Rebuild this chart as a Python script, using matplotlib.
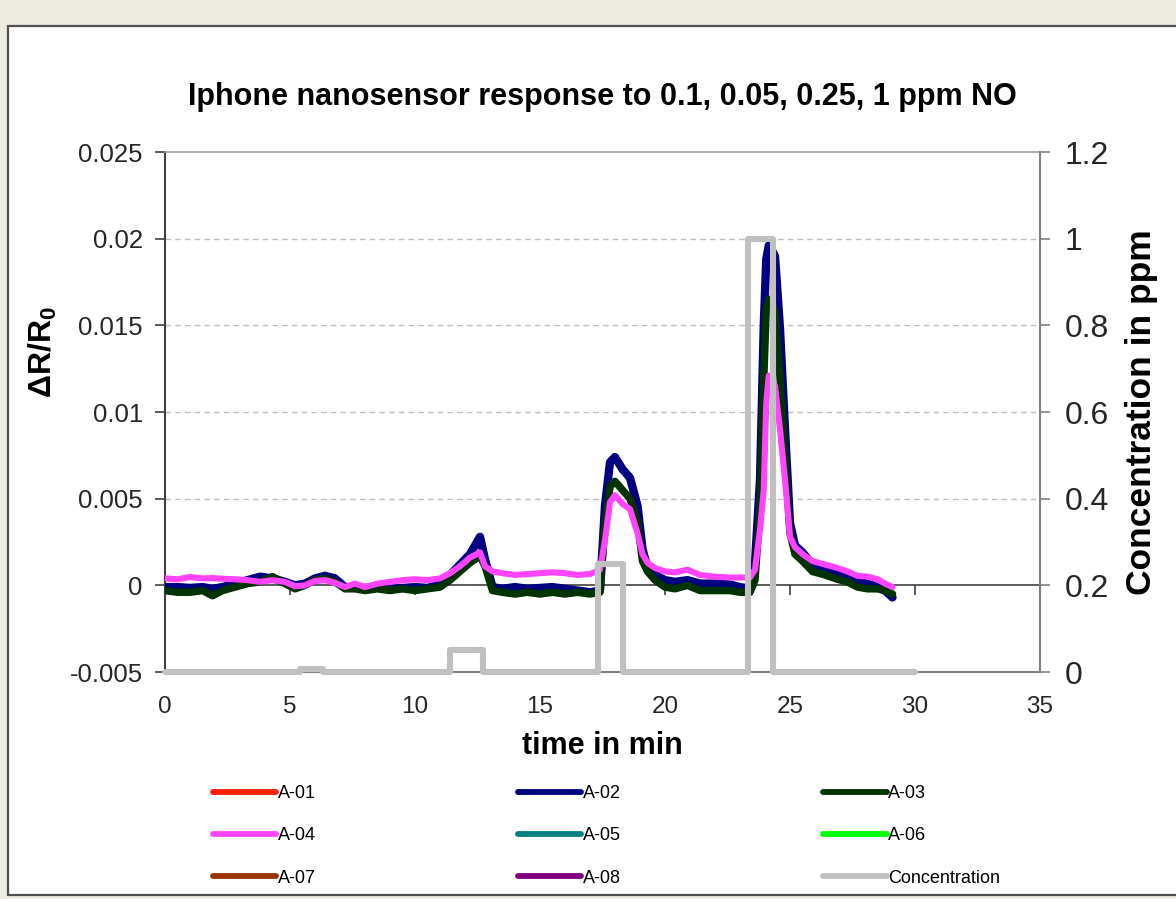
import matplotlib
matplotlib.use("Agg")
import matplotlib.pyplot as plt
from matplotlib.patches import Rectangle
from matplotlib.ticker import FixedLocator, FixedFormatter

plt.rcParams['axes.unicode_minus'] = False
plt.rcParams['font.family'] = ['Liberation Sans', 'DejaVu Sans']
plt.rcParams['mathtext.fontset'] = 'custom'
plt.rcParams['mathtext.rm'] = 'Liberation Sans'
plt.rcParams['mathtext.bf'] = 'Liberation Sans:bold'

# ---------------- data ----------------
time_min = [0, 0.5, 1, 1.5, 1.9, 2.3, 2.8, 3.3, 3.8, 4.3, 4.8, 5.2, 5.6, 6.0, 6.4, 6.8,
            7.2, 7.6, 8.0, 8.5, 9.0, 9.5, 10.0, 10.5, 11.0, 11.4, 11.8, 12.2, 12.6, 12.8,
            13.1, 13.5, 14.0, 14.5, 15.0, 15.5, 16.0, 16.5, 17.0, 17.4, 17.6, 17.8, 18.0,
            18.3, 18.6, 18.9, 19.1, 19.3, 19.6, 20.0, 20.4, 20.9, 21.4, 22.0, 22.6, 23.0,
            23.4, 23.6, 23.8, 23.95, 24.05, 24.15, 24.25, 24.4, 24.6, 24.8, 25.0, 25.2,
            25.5, 25.9, 26.4, 26.9, 27.3, 27.7, 28.1, 28.5, 28.8, 29.1]

a02 = [-0.0001, -0.0001, -0.00015, -0.0001, -0.0002, -0.0001, 0.0001, 0.0003, 0.0005, 0.0004,
       0.0002, 0.0, 0.0001, 0.0004, 0.00055, 0.0004, -0.0001, -0.0001, -0.00015, -0.0001,
       -0.0002, -0.00015, -0.0001, -0.00015, 0.00005, 0.0006, 0.0012, 0.0018, 0.0028, 0.0015,
       -0.0001, -0.0002, -0.0001, -0.0002, -0.00015, -0.0001, -0.0002, -0.0003, -0.0004, -0.0003,
       0.0046, 0.0071, 0.0074, 0.0067, 0.0062, 0.0046, 0.0021, 0.001, 0.0006, 0.0003,
       0.0002, 0.0003, 0.0001, 0.0001, 0.00005, -0.0001, -0.0002, 0.0013, 0.0061, 0.015,
       0.0188, 0.0196, 0.0194, 0.019, 0.0148, 0.009, 0.0036, 0.0023, 0.0019, 0.0012,
       0.001, 0.00075, 0.0005, 0.0002, 0.0001, -0.0001, -0.0003, -0.0007]

a03 = [-0.0003, -0.0004, -0.0004, -0.0003, -0.0006, -0.0003, -0.0001, 0.0001, 0.0002, 0.0005,
       0.0001, -0.0002, 0.0, 0.0003, 0.0004, 0.0002, -0.0002, -0.0002, -0.0003, -0.0002,
       -0.0003, -0.0002, -0.0003, -0.0002, -0.0001, 0.0003, 0.0008, 0.0013, 0.0017, 0.0011,
       -0.0003, -0.0004, -0.0005, -0.0004, -0.0005, -0.0004, -0.0005, -0.0004, -0.0005, -0.0004,
       0.0035, 0.0057, 0.006, 0.0055, 0.005, 0.0037, 0.0014, 0.0008, 0.0003, -0.0001,
       -0.0002, 0.0, -0.0003, -0.0003, -0.0003, -0.0004, -0.0004, 0.0003, 0.0045, 0.0119,
       0.016, 0.0165, 0.0163, 0.0158, 0.012, 0.0075, 0.003, 0.0018, 0.0014, 0.0008,
       0.0006, 0.00035, 0.0002, -0.0001, -0.0002, -0.0002, -0.0003, -0.0005]

a04 = [0.0004, 0.00035, 0.00048, 0.0004, 0.00042, 0.00038, 0.00035, 0.0003, 0.0002, 0.0003,
       0.0002, -0.00005, 0.0, 0.00025, 0.0003, 0.00015, -0.0001, 0.0001, -0.0001, 0.0001,
       0.0002, 0.0003, 0.00035, 0.0003, 0.0004, 0.0007, 0.0011, 0.0016, 0.0019, 0.0011,
       0.0008, 0.0007, 0.0006, 0.00065, 0.0007, 0.00075, 0.0007, 0.0006, 0.00065, 0.0009,
       0.0026, 0.0048, 0.0052, 0.0047, 0.0044, 0.003, 0.0018, 0.0013, 0.001, 0.0008,
       0.00075, 0.0009, 0.0006, 0.0005, 0.00045, 0.00045, 0.00045, 0.0009, 0.0032, 0.0055,
       0.0105, 0.0121, 0.012, 0.0115, 0.009, 0.0061, 0.0028, 0.0022, 0.0018, 0.0014,
       0.0012, 0.001, 0.0008, 0.00055, 0.0005, 0.00035, 0.0001, -0.0001]

a01, a05, a06, a07, a08 = [], [], [], [], []   # listed in legend, not visible in the plot

conc_time = [0, 5.4, 5.4, 6.3, 6.3, 11.4, 11.4, 12.7, 12.7, 17.3, 17.3, 18.3, 18.3,
             23.3, 23.3, 24.3, 24.3, 30]
conc_ppm = [0, 0, 0.008, 0.008, 0, 0, 0.05, 0.05, 0, 0, 0.25, 0.25, 0, 0, 1, 1, 0, 0]

left_ticks = [-0.005, 0, 0.005, 0.01, 0.015, 0.02, 0.025]
left_labels = ['-0.005', '0', '0.005', '0.01', '0.015', '0.02', '0.025']
right_ticks = [0, 0.2, 0.4, 0.6, 0.8, 1.0, 1.2]
right_labels = ['0', '0.2', '0.4', '0.6', '0.8', '1', '1.2']
x_ticks = [0, 5, 10, 15, 20, 25, 30, 35]

assert len(time_min) == len(a02) == len(a03) == len(a04)

# ---------------- figure ----------------
W, H = 1176, 899
fig = plt.figure(figsize=(W / 100, H / 100), dpi=100)
fig.patch.set_facecolor('#EEEBE0')
fig.patches.append(Rectangle((8 / W, 4 / H), 1.2, (895 - 26) / H, transform=fig.transFigure,
                             facecolor='white', edgecolor='#505050', linewidth=1.6, zorder=-5))

ax = fig.add_axes([165 / W, 1 - 672 / H, 875 / W, 520 / H])
ax.set_facecolor('none')
ax.set_xlim(0, 35)
ax.set_ylim(-0.005, 0.025)

series = [('A-01', a01, '#FF2000', 4.5), ('A-02', a02, '#000080', 6.0),
          ('A-03', a03, '#003300', 5.4), ('A-04', a04, '#FF44FF', 4.4),
          ('A-05', a05, '#008080', 4.5), ('A-06', a06, '#00FF00', 4.5),
          ('A-07', a07, '#993300', 4.5), ('A-08', a08, '#800080', 4.5)]
handles = {}
for name, vals, col, lw in series:
    t = time_min if vals else []
    h, = ax.plot(t, vals, color=col, lw=lw, solid_capstyle='round',
                 solid_joinstyle='round', zorder=3, label=name)
    handles[name] = h

# gridlines
for yv in [0.005, 0.01, 0.015, 0.02]:
    ax.axhline(yv, color='#BFBFBF', lw=1.0, ls=(0, (4, 3)), zorder=1)

# spines
ax.spines['bottom'].set_position(('data', 0))
ax.spines['bottom'].set_color('#404040')
ax.spines['bottom'].set_linewidth(1.2)
ax.spines['left'].set_color('#404040')
ax.spines['left'].set_linewidth(1.5)
ax.spines['top'].set_color('#A0A0A0')
ax.spines['top'].set_linewidth(1.2)
ax.spines['right'].set_visible(False)

ax.xaxis.set_major_locator(FixedLocator(x_ticks))
ax.tick_params(axis='x', direction='out', length=7, width=1.2, color='#404040',
               labelbottom=False)
ax.yaxis.set_major_locator(FixedLocator(left_ticks))
ax.yaxis.set_major_formatter(FixedFormatter(left_labels))
ax.tick_params(axis='y', direction='out', length=7, width=1.2, color='#404040',
               labelsize=18.5, labelcolor='#262626', pad=9)

# bottom label axis (plot-area bottom border)
sec = ax.secondary_xaxis('bottom')
sec.spines['bottom'].set_color('#808080')
sec.spines['bottom'].set_linewidth(1.5)
sec.set_xticks(x_ticks)
sec.set_xticklabels([str(v) for v in x_ticks])
sec.tick_params(length=0, labelsize=17.5, labelcolor='#262626', pad=17)
sec.set_xlabel('time in min', fontsize=22, fontweight='bold', labelpad=10)

ax.set_ylabel(r'$\mathbf{\Delta R/R_0}$', fontsize=23)
ax.yaxis.set_label_coords(-0.121, 0.615)

# secondary axis for concentration
ax2 = ax.twinx()
ax2.set_ylim(0, 1.2)
ax2.plot(conc_time, conc_ppm, color='#C0C0C0', lw=4.4, solid_capstyle='round',
         solid_joinstyle='round', clip_on=False, zorder=4, label='Concentration')
handles['Concentration'] = ax2.lines[0]
for s in ['top', 'bottom', 'left']:
    ax2.spines[s].set_visible(False)
ax2.spines['right'].set_color('#808080')
ax2.spines['right'].set_linewidth(1.5)
ax2.yaxis.set_major_locator(FixedLocator(right_ticks))
ax2.yaxis.set_major_formatter(FixedFormatter(right_labels))
ax2.tick_params(axis='y', direction='out', length=7, width=1.2, color='#808080',
                labelsize=23, labelcolor='#262626', pad=11)
ax2.set_ylabel('Concentration in ppm', fontsize=25.5, fontweight='bold', rotation=90)
ax2.yaxis.set_label_coords(1.097, 0.5)

# title
fig.text(602 / W, 1 - 97 / H, 'Iphone nanosensor response to 0.1, 0.05, 0.25, 1 ppm NO',
         ha='center', va='center', fontsize=22, fontweight='bold')

# legend (row-major order -> column-major for matplotlib)
order = ['A-01', 'A-04', 'A-07', 'A-02', 'A-05', 'A-08', 'A-03', 'A-06', 'Concentration']
leg = fig.legend([handles[n] for n in order], order, ncol=3, frameon=False,
                 loc='upper left', bbox_to_anchor=(213 / W, 1 - 785 / H),
                 prop={'size': 13},
                 handlelength=3.5, handletextpad=0.1, columnspacing=11.2,
                 labelspacing=1.4, borderaxespad=0, borderpad=0)
for lh in leg.get_lines():
    lh.set_linewidth(4.2)
    lh.set_solid_capstyle('round')

fig.savefig('out.png', dpi=100, facecolor=fig.get_facecolor())
